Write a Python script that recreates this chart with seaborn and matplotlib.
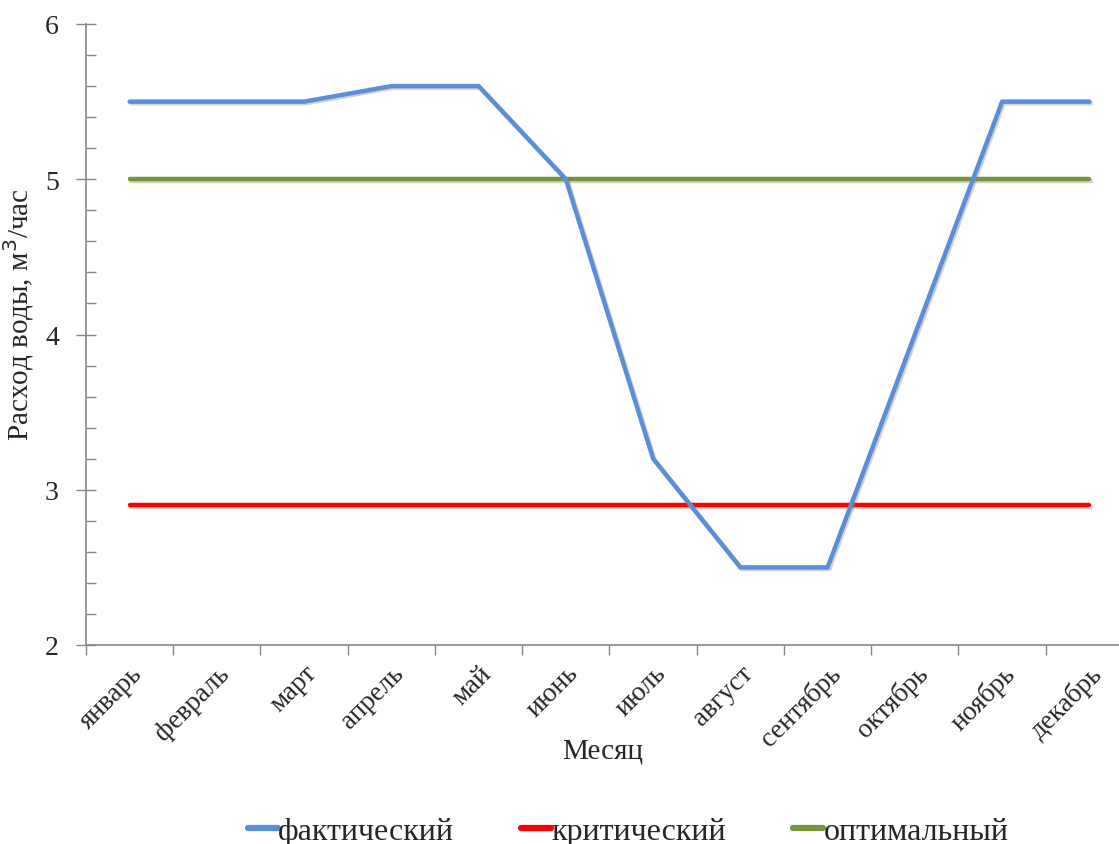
import numpy as np
import pandas as pd
import matplotlib
matplotlib.use("Agg")
import matplotlib.pyplot as plt
import matplotlib.patheffects as pe
from matplotlib.ticker import MultipleLocator, FixedLocator
import seaborn as sns

months = ["январь", "февраль", "март", "апрель", "май", "июнь",
          "июль", "август", "сентябрь", "октябрь", "ноябрь", "декабрь"]
actual = [5.5, 5.5, 5.5, 5.6, 5.6, 5.0, 3.2, 2.5, 2.5, 4.0, 5.5, 5.5]
critical = [2.9] * 12
optimal = [5.0] * 12
series_names = ["фактический", "критический", "оптимальный"]
colors = ["#5A8ED6", "#FF0000", "#77933C"]

df = pd.DataFrame({
    "Месяц": months * 3,
    "value": actual + critical + optimal,
    "series": [series_names[0]] * 12 + [series_names[1]] * 12 + [series_names[2]] * 12,
})
df["x"] = list(range(12)) * 3

sns.set_theme(style="white")
plt.rcParams["font.family"] = ["Liberation Serif", "DejaVu Serif"]

fig = plt.figure(figsize=(11.19, 8.45), dpi=100)
ax = fig.add_axes([86 / 1119, 1 - 646 / 845, 1047 / 1119, (646 - 25) / 845])

shadow = [pe.SimpleLineShadow(offset=(1.2, -1.2), shadow_color="#7f7f7f", alpha=0.35), pe.Normal()]
order_z = {series_names[0]: 4, series_names[1]: 2, series_names[2]: 3}
for name, col in zip(series_names, colors):
    sub = df[df["series"] == name]
    sns.lineplot(data=sub, x="x", y="value", color=col, linewidth=3.2, ax=ax,
                 label=name, zorder=order_z[name], solid_capstyle="round")
for line in ax.get_lines():
    line.set_path_effects(shadow)

ax.set_xlim(-0.5, 11.5)
ax.set_ylim(2, 6)
ax.yaxis.set_major_locator(MultipleLocator(1))
ax.yaxis.set_minor_locator(MultipleLocator(0.2))
ax.xaxis.set_major_locator(FixedLocator(range(12)))
ax.xaxis.set_minor_locator(FixedLocator(np.arange(-0.5, 12, 1.0)))
ax.set_xticklabels(months, rotation=45, ha="right", va="top", rotation_mode="anchor", fontsize=19.5)
ax.tick_params(axis="x", which="major", length=0, pad=11, bottom=True)
ax.tick_params(axis="x", which="minor", length=7, direction="out", color="#868686", width=1, bottom=True)
ax.tick_params(axis="y", which="major", direction="inout", length=15, color="#868686", width=1,
               labelsize=20, pad=12, left=True)
ax.tick_params(axis="y", which="minor", direction="in", length=7, color="#868686", width=1, left=True)

for side in ["top", "right"]:
    ax.spines[side].set_visible(False)
for side in ["left", "bottom"]:
    ax.spines[side].set_color("#868686")
    ax.spines[side].set_linewidth(1.2)

ax.set_xlabel("Месяц", fontsize=21)
ax.xaxis.set_label_coords((603 - 86) / 1047, (646 - 739) / 621)
ax.set_ylabel("Расход воды, м$^{3}$/час", fontsize=21)
ax.yaxis.set_label_coords((36 - 86) / 1047, (646 - 315) / 621)
ax.grid(False)

ax.get_legend().remove()
handles, labels = ax.get_legend_handles_labels()
leg = fig.legend(handles, labels, loc="center", bbox_to_anchor=(628 / 1119, 1 - 832 / 845),
                 ncol=3, frameon=False, fontsize=23, handlelength=0.95,
                 handletextpad=0.0, columnspacing=2.1)
for h in leg.get_lines():
    h.set_linewidth(4.5)
    h.set_path_effects([])

fig.savefig("out.png", dpi=100)
